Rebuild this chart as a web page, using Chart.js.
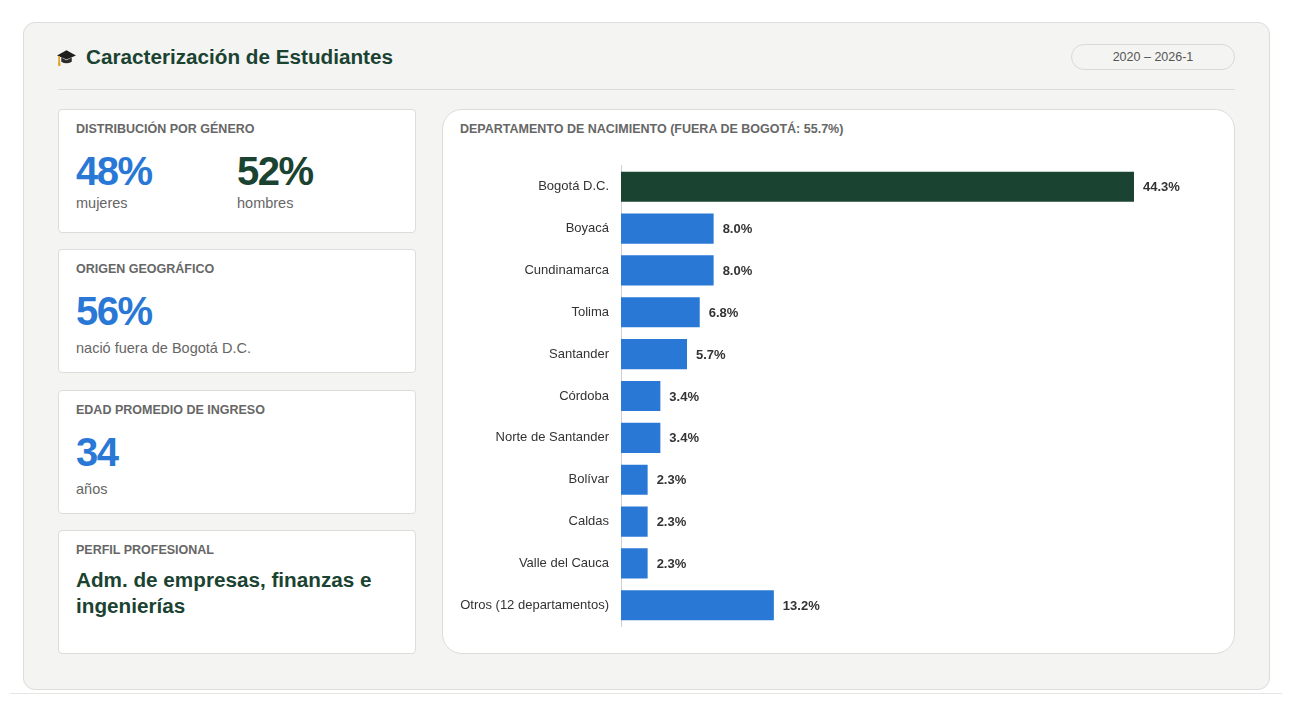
<!DOCTYPE html>
<html lang="es">
<head>
<meta charset="utf-8">
<title>Caracterización de Estudiantes</title>
<script src="https://cdn.jsdelivr.net/npm/chart.js@4.4.1/dist/chart.umd.min.js"></script>
<style>
    * { box-sizing: border-box; margin: 0; padding: 0; }
    body {
        width: 1300px; height: 718px; background: #ffffff; position: relative;
        font-family: "Liberation Sans", Arial, Helvetica, sans-serif; overflow: hidden;
    }
    .panel {
        position: absolute; left: 23px; top: 22px; width: 1247px; height: 668px;
        background: #f4f4f2; border: 1px solid #dcdcda; border-radius: 12px;
    }
    .baseline { position: absolute; left: 10px; top: 693px; width: 1272px; height: 1px; background: #e6e6e4; }
    .title {
        position: absolute; left: 86px; top: 44px; font-size: 20.7px; font-weight: bold;
        color: #1b4332; line-height: 26px;
    }
    .icon { position: absolute; left: 56px; top: 47px; width: 21px; height: 21px; }
    .pill {
        position: absolute; left: 1071px; top: 44px; width: 164px; height: 26px;
        border: 1px solid #d9d9d7; border-radius: 13px; font-size: 12.5px; color: #555;
        text-align: center; line-height: 24px;
    }
    .divider { position: absolute; left: 58px; top: 89px; width: 1177px; height: 1px; background: #dcdcda; }
    .card {
        position: absolute; left: 58px; width: 358px; height: 124px; background: #fff;
        border: 1px solid #dcdcda; border-radius: 4px;
    }
    .label {
        position: absolute; left: 17px; top: 12px; font-size: 12.5px; font-weight: bold;
        color: #666; line-height: 15px; text-transform: uppercase; white-space: nowrap;
    }
    .big {
        position: absolute; top: 38px; font-size: 40px; font-weight: bold; letter-spacing: -1.5px;
        line-height: 46px;
    }
    .sub { position: absolute; top: 84px; font-size: 14.5px; color: #666; line-height: 18px; }
    .blue { color: #2a78d6; }
    .green { color: #1b4332; }
    .profile {
        position: absolute; left: 17px; top: 36px; width: 330px; font-size: 20.7px; font-weight: bold;
        color: #1b4332; line-height: 26px;
    }
    .chart-card {
        position: absolute; left: 442px; top: 109px; width: 793px; height: 545px; background: #fff;
        border: 1px solid #dcdcda; border-radius: 20px;
    }
    .chart-wrap { position: absolute; left: 450px; top: 146px; width: 750px; height: 500px; }
</style>
</head>
<body>
<div class="panel"></div>
<div class="baseline"></div>

<svg class="icon" viewBox="0 0 20 20">
    <polygon points="10,3 19,8 10,12 1,8" fill="#1f1f1f"/>
    <path d="M5,10 L5,14 Q10,17 15,14 L15,10 L10,12.5 Z" fill="#2b2b2b"/>
    <line x1="3" y1="8.5" x2="3" y2="16" stroke="#e0a020" stroke-width="1.6"/>
    <rect x="2" y="15" width="2.2" height="3" fill="#e0a020"/>
</svg>
<div class="title">Caracterización de Estudiantes</div>
<div class="pill">2020 – 2026-1</div>
<div class="divider"></div>

<div class="card" style="top:109px">
    <div class="label">Distribución por género</div>
    <div class="big blue" style="left:17px">48%</div>
    <div class="sub" style="left:17px">mujeres</div>
    <div class="big green" style="left:178px">52%</div>
    <div class="sub" style="left:178px">hombres</div>
</div>
<div class="card" style="top:249px">
    <div class="label">Origen geográfico</div>
    <div class="big blue" style="left:17px">56%</div>
    <div class="sub" style="left:17px; top:89px">nació fuera de Bogotá D.C.</div>
</div>
<div class="card" style="top:390px">
    <div class="label">Edad promedio de ingreso</div>
    <div class="big blue" style="left:17px">34</div>
    <div class="sub" style="left:17px; top:89px">años</div>
</div>
<div class="card" style="top:530px">
    <div class="label">Perfil profesional</div>
    <div class="profile">Adm. de empresas, finanzas e ingenierías</div>
</div>

<div class="chart-card">
    <div class="label">Departamento de nacimiento (fuera de Bogotá: 55.7%)</div>
</div>
<div class="chart-wrap"><canvas id="deptChart"></canvas></div>

<script>
// Datos del gráfico
const departamentos = [
    'Bogotá D.C.', 'Boyacá', 'Cundinamarca', 'Tolima', 'Santander', 'Córdoba',
    'Norte de Santander', 'Bolívar', 'Caldas', 'Valle del Cauca', 'Otros (12 departamentos)'
];
const porcentajes = [44.3, 8.0, 8.0, 6.8, 5.7, 3.4, 3.4, 2.3, 2.3, 2.3, 13.2];
const ejeMax = 50;

const VERDE = '#1b4332';
const AZUL = '#2a78d6';

// Etiquetas de valor al final de cada barra
const valueLabels = {
    id: 'valueLabels',
    afterDatasetsDraw(chart) {
        const { ctx } = chart;
        const meta = chart.getDatasetMeta(0);
        ctx.save();
        ctx.font = 'bold 13px "Liberation Sans", Arial, sans-serif';
        ctx.fillStyle = '#333';
        ctx.textAlign = 'left';
        ctx.textBaseline = 'middle';
        meta.data.forEach((bar, i) => {
            ctx.fillText(porcentajes[i].toFixed(1) + '%', bar.x + 9, bar.y + 1);
        });
        ctx.restore();
    }
};

new Chart(document.getElementById('deptChart'), {
    type: 'bar',
    data: {
        labels: departamentos,
        datasets: [{
            data: porcentajes,
            backgroundColor: porcentajes.map((v, i) => i === 0 ? VERDE : AZUL),
            borderWidth: 0,
            barPercentage: 0.72,
            categoryPercentage: 1
        }]
    },
    options: {
        indexAxis: 'y',
        responsive: true,
        maintainAspectRatio: false,
        animation: false,
        layout: { padding: 0 },
        plugins: {
            legend: { display: false },
            tooltip: { enabled: false }
        },
        scales: {
            x: { display: false, min: 0, max: ejeMax },
            y: {
                afterFit: scale => { scale.width = 171; },
                grid: { display: false, drawTicks: false },
                border: { display: true, color: '#d0d0d0', width: 1 },
                ticks: {
                    padding: 12,
                    color: '#333',
                    font: { family: '"Liberation Sans", Arial, sans-serif', size: 13 }
                }
            }
        }
    },
    plugins: [valueLabels]
});
</script>
</body>
</html>
